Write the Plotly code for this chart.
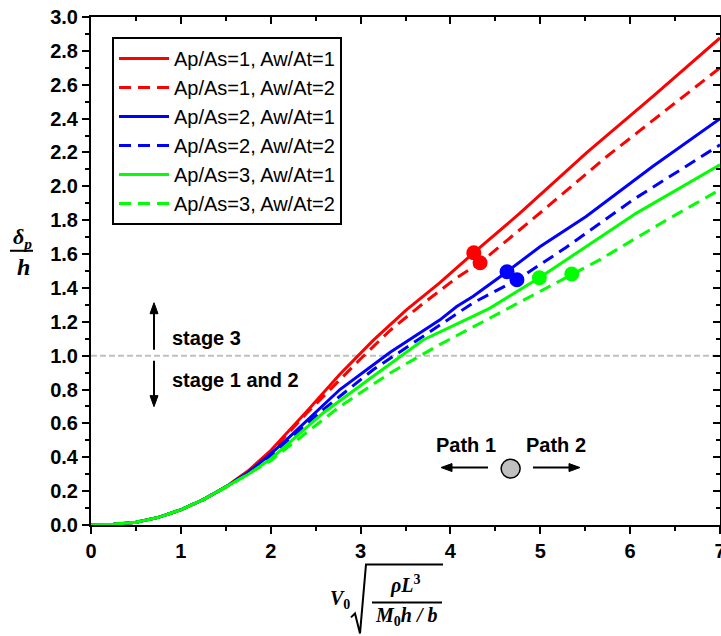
import plotly.graph_objects as go

# ---- data: dimensionless deflection vs dimensionless impact velocity ----
names = [
    "Ap/As=1, Aw/At=1",
    "Ap/As=1, Aw/At=2",
    "Ap/As=2, Aw/At=1",
    "Ap/As=2, Aw/At=2",
    "Ap/As=3, Aw/At=1",
    "Ap/As=3, Aw/At=2",
]

x_r1 = [0, 0.25, 0.5, 0.75, 1.0, 1.25, 1.5, 1.75, 2.0, 2.4, 2.77, 3.14, 3.51, 3.88, 4.26, 4.77, 5.52, 6.25, 7.0]
y_r1 = [0, 0.004, 0.016, 0.045, 0.09, 0.15, 0.225, 0.32, 0.44, 0.67, 0.89, 1.09, 1.27, 1.43, 1.608, 1.84, 2.20, 2.53, 2.876]

x_r2 = [0, 0.25, 0.5, 0.75, 1.0, 1.25, 1.5, 1.75, 2.0, 2.4, 2.99, 3.33, 3.70, 4.07, 4.33, 5.0, 5.74, 6.4, 7.0]
y_r2 = [0, 0.004, 0.016, 0.045, 0.09, 0.15, 0.225, 0.315, 0.43, 0.66, 0.976, 1.15, 1.31, 1.46, 1.549, 1.844, 2.176, 2.45, 2.70]

x_b1 = [0, 0.25, 0.5, 0.75, 1.0, 1.25, 1.5, 1.75, 2.0, 2.21, 2.77, 3.33, 3.88, 4.07, 4.25, 4.63, 5.0, 5.51, 6.25, 7.0]
y_b1 = [0, 0.004, 0.016, 0.045, 0.09, 0.15, 0.225, 0.31, 0.42, 0.52, 0.80, 1.02, 1.21, 1.29, 1.35, 1.496, 1.645, 1.822, 2.117, 2.40]

x_b2 = [0, 0.25, 0.5, 0.75, 1.0, 1.25, 1.5, 1.75, 2.0, 2.58, 3.14, 3.70, 4.25, 4.74, 5.29, 6.03, 7.0]
y_b2 = [0, 0.004, 0.016, 0.045, 0.09, 0.15, 0.225, 0.31, 0.41, 0.68, 0.917, 1.114, 1.311, 1.448, 1.64, 1.92, 2.245]

x_g1 = [0, 0.25, 0.5, 0.75, 1.0, 1.25, 1.5, 1.75, 2.0, 2.58, 3.14, 3.70, 4.25, 4.44, 4.99, 5.51, 6.07, 7.0]
y_g1 = [0, 0.004, 0.016, 0.045, 0.09, 0.15, 0.225, 0.30, 0.39, 0.66, 0.878, 1.094, 1.232, 1.281, 1.46, 1.645, 1.842, 2.127]

x_g2 = [0, 0.25, 0.5, 0.75, 1.0, 1.25, 1.5, 1.75, 2.0, 2.77, 3.33, 3.88, 4.40, 5.35, 5.66, 6.40, 7.0]
y_g2 = [0, 0.004, 0.016, 0.045, 0.09, 0.15, 0.222, 0.30, 0.38, 0.70, 0.898, 1.065, 1.212, 1.482, 1.566, 1.80, 1.98]

# transition points (path switch) on each curve
mark_x = [4.26, 4.33, 4.63, 4.74, 4.99, 5.35]
mark_y = [1.608, 1.549, 1.496, 1.448, 1.46, 1.482]

colors = ["#ff0000", "#ff0000", "#0000ff", "#0000ff", "#00ff00", "#00ff00"]
dashes = ["solid", "12px,7px", "solid", "12px,7px", "solid", "12px,7px"]
xs = [x_r1, x_r2, x_b1, x_b2, x_g1, x_g2]
ys = [y_r1, y_r2, y_b1, y_b2, y_g1, y_g2]

x_ticks = [0, 1, 2, 3, 4, 5, 6, 7]
y_ticks = [round(0.2 * i, 1) for i in range(16)]

# plot-area geometry (pixels) used to place free-floating labels
L, R, T, B = 91, 720, 17, 525.5
W, H = 721, 636


def px(xp):
    return (xp - L) / (R - L)


def py(yp):
    return (B - yp) / (B - T)


fig = go.Figure()

for n, xv, yv, c, d in zip(names, xs, ys, colors, dashes):
    fig.add_trace(go.Scatter(x=xv, y=yv, mode="lines", name=n,
                             line=dict(color=c, width=3, dash=d)))

for mx, my, c in zip(mark_x, mark_y, colors):
    fig.add_trace(go.Scatter(x=[mx], y=[my], mode="markers", showlegend=False,
                             marker=dict(color=c, size=15, line=dict(width=0))))

# carrier trace for the mirrored top/right axes
fig.add_trace(go.Scatter(x=[None], y=[None], xaxis="x2", yaxis="y2",
                         showlegend=False, hoverinfo="skip"))

tick_font = dict(family="Arial, Liberation Sans", size=20, color="black", weight="bold")
label_font = dict(family="Arial, Liberation Sans", size=20, color="black", weight="bold")
math_font = dict(family="Times New Roman, Liberation Serif", size=20, color="black")

common_axis = dict(showgrid=False, zeroline=False, linecolor="black", linewidth=2,
                   tickcolor="black", tickwidth=2, automargin=False)

fig.update_layout(
    width=W, height=H,
    margin=dict(l=L, r=W - R, t=T, b=H - B, autoexpand=False),
    plot_bgcolor="white", paper_bgcolor="white",
    xaxis=dict(range=[0, 7], tickvals=x_ticks, ticktext=[str(v) for v in x_ticks],
               showline=True, mirror=True, ticks="outside", ticklen=7,
               tickfont=tick_font, ticklabeloverflow="allow",
               minor=dict(ticks="outside", ticklen=4, tickwidth=2, tickcolor="black",
                          dtick=0.5, showgrid=False),
               **common_axis),
    yaxis=dict(range=[0, 3], tickvals=y_ticks, ticktext=[f"{v:.1f}" for v in y_ticks],
               showline=True, mirror=True, ticks="outside", ticklen=7,
               tickfont=tick_font, ticklabeloverflow="allow",
               minor=dict(ticks="outside", ticklen=4, tickwidth=2, tickcolor="black",
                          dtick=0.1, showgrid=False),
               **common_axis),
    xaxis2=dict(range=[0, 7], overlaying="x", side="top", anchor="y2",
                showline=False, showticklabels=False, ticks="inside", ticklen=7,
                tickvals=x_ticks,
                minor=dict(ticks="inside", ticklen=4, tickwidth=2, tickcolor="black",
                           dtick=0.5, showgrid=False),
                **common_axis),
    yaxis2=dict(range=[0, 3], overlaying="y", side="right", anchor="x2",
                showline=False, showticklabels=False, ticks="inside", ticklen=7,
                tickvals=y_ticks,
                minor=dict(ticks="inside", ticklen=4, tickwidth=2, tickcolor="black",
                           dtick=0.1, showgrid=False),
                **common_axis),
    legend=dict(x=px(112), y=py(37), xanchor="left", yanchor="top",
                bordercolor="black", borderwidth=2, bgcolor="white",
                font=dict(family="Arial, Liberation Sans", size=20, color="black"),
                itemwidth=50, tracegroupgap=0),
    showlegend=True,
)

# stage boundary
fig.add_shape(type="line", xref="paper", yref="y", x0=0, x1=1, y0=1.0, y1=1.0,
              line=dict(color="#c0c0c0", width=2, dash="6px,3px"), layer="below")


def add_arrow(x_tail, y_tail, x_tip, y_tip, head_len=11, half_w=4):
    """Straight arrow with a filled triangular head, given in pixel positions."""
    dx, dy = x_tip - x_tail, y_tip - y_tail
    n = (dx * dx + dy * dy) ** 0.5
    ux, uy = dx / n, dy / n
    bx, by = x_tip - ux * head_len, y_tip - uy * head_len
    fig.add_shape(type="line", xref="paper", yref="paper",
                  x0=px(x_tail), y0=py(y_tail), x1=px(bx), y1=py(by),
                  line=dict(color="black", width=2))
    p1 = (bx - uy * half_w, by + ux * half_w)
    p2 = (bx + uy * half_w, by - ux * half_w)
    fig.add_shape(type="path", xref="paper", yref="paper",
                  path=(f"M {px(x_tip)},{py(y_tip)} L {px(p1[0])},{py(p1[1])} "
                        f"L {px(p2[0])},{py(p2[1])} Z"),
                  fillcolor="black", line=dict(color="black", width=1))


# stage arrows
add_arrow(154, 350, 154, 303)
add_arrow(154, 361, 154, 407)
fig.add_annotation(x=0.879, y=1.106, xref="x", yref="y", text="stage 3",
                   showarrow=False, xanchor="left", yanchor="middle", font=label_font)
fig.add_annotation(x=0.879, y=0.858, xref="x", yref="y", text="stage 1 and 2",
                   showarrow=False, xanchor="left", yanchor="middle", font=label_font)

# path sketch
add_arrow(488, 468, 441, 468)
add_arrow(533, 468, 580, 468)
fig.add_shape(type="circle", xref="x", yref="y",
              x0=4.67 - 0.106, x1=4.67 + 0.106, y0=0.333 - 0.056, y1=0.333 + 0.056,
              fillcolor="#c0c0c0", line=dict(color="black", width=1.5))
fig.add_annotation(x=4.17, y=0.475, xref="x", yref="y", text="Path 1",
                   showarrow=False, xanchor="center", yanchor="middle", font=label_font)
fig.add_annotation(x=5.18, y=0.475, xref="x", yref="y", text="Path 2",
                   showarrow=False, xanchor="center", yanchor="middle", font=label_font)

# x-axis title: V0 * sqrt(rho L^3 / (M0 h / b))
fig.add_annotation(x=px(340), y=py(600), xref="paper", yref="paper",
                   text="<b><i>V</i></b><sub><b>0</b></sub>", showarrow=False,
                   xanchor="center", yanchor="middle", font=math_font)
fig.add_shape(type="path", xref="paper", yref="paper",
              path=(f"M {px(351)},{py(618)} L {px(355)},{py(614)} L {px(360)},{py(634)} "
                    f"L {px(366)},{py(565)} L {px(443)},{py(565)}"),
              line=dict(color="black", width=2))
fig.add_annotation(x=px(405), y=py(585), xref="paper", yref="paper",
                   text="<b><i>ρL</i></b><sup><b>3</b></sup>", showarrow=False,
                   xanchor="center", yanchor="middle", font=math_font)
fig.add_shape(type="line", xref="paper", yref="paper",
              x0=px(372), x1=px(442), y0=py(603), y1=py(603),
              line=dict(color="black", width=2))
fig.add_annotation(x=px(406), y=py(617), xref="paper", yref="paper",
                   text="<b><i>M</i></b><sub><b>0</b></sub><b><i>h / b</i></b>",
                   showarrow=False, xanchor="center", yanchor="middle", font=math_font)

# y-axis title: delta_p / h
fig.add_annotation(x=px(22.5), y=py(238), xref="paper", yref="paper",
                   text="<b><i>δ</i></b><sub><b><i>p</i></b></sub>", showarrow=False,
                   xanchor="center", yanchor="middle",
                   font=dict(family="Times New Roman, Liberation Serif", size=22, color="black"))
fig.add_shape(type="line", xref="paper", yref="paper",
              x0=px(10), x1=px(33), y0=py(251), y1=py(251),
              line=dict(color="black", width=2))
fig.add_annotation(x=px(23.5), y=py(267), xref="paper", yref="paper",
                   text="<b><i>h</i></b>", showarrow=False,
                   xanchor="center", yanchor="middle",
                   font=dict(family="Times New Roman, Liberation Serif", size=24, color="black"))

fig.write_html("out.html")
